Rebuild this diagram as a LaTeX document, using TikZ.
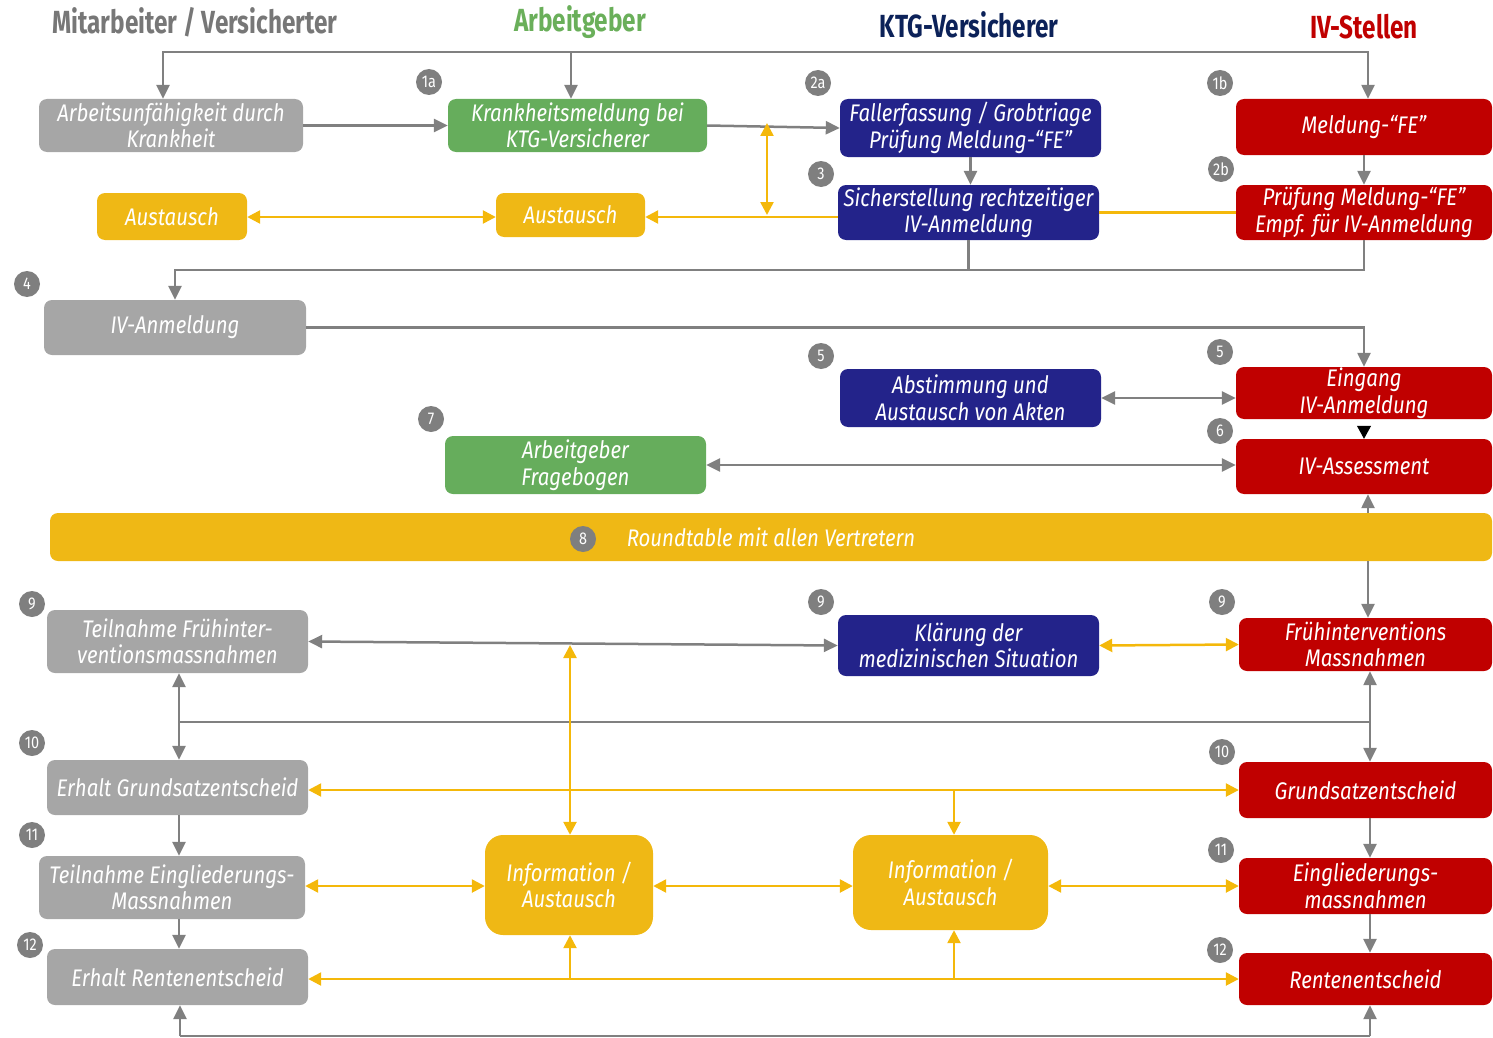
\documentclass[tikz,border=0pt]{standalone}
\usepackage{fontspec}
\setmainfont{Fira Sans}[FakeStretch=0.85]
\newfontfamily\headfont{Fira Sans}[FakeStretch=0.76]
\usetikzlibrary{arrows.meta}
\definecolor{boxgray}{HTML}{A6A6A6}
\definecolor{boxgreen}{HTML}{66AD5C}
\definecolor{boxnavy}{HTML}{23238A}
\definecolor{boxred}{HTML}{C00000}
\definecolor{boxyellow}{HTML}{EFB815}
\definecolor{lineyellow}{HTML}{F4B80A}
\definecolor{linegray}{HTML}{808080}
\definecolor{headgray}{HTML}{777777}
\definecolor{headgreen}{HTML}{6AAF5A}
\definecolor{headnavy}{HTML}{0C2259}
\definecolor{badgegray}{HTML}{7F7F7F}
\tikzset{
  bxbase/.style={rectangle, rounded corners=8pt, text=white, align=center, inner sep=0pt,
    font=\fontsize{24}{26.5}\selectfont\itshape},
  graybx/.style={bxbase, fill=boxgray},
  greenbx/.style={bxbase, fill=boxgreen},
  navybx/.style={bxbase, fill=boxnavy},
  redbx/.style={bxbase, fill=boxred},
  yelbx/.style={bxbase, fill=boxyellow},
  badge/.style={circle, fill=badgegray, text=white, minimum size=26pt, inner sep=0pt,
    font=\fontsize{17}{17}\selectfont},
  header/.style={font=\headfont\bfseries\fontsize{32}{34}\selectfont},
  gline/.style={draw=linegray, line width=2.5pt},
  garr/.style={gline, -{Triangle[length=14pt,width=13pt]}},
  garrb/.style={gline, {Triangle[length=14pt,width=13pt]}-{Triangle[length=14pt,width=13pt]}},
  yline/.style={draw=lineyellow, line width=2.5pt},
  yarr/.style={yline, -{Triangle[length=13pt,width=13pt]}},
  yarrb/.style={yline, {Triangle[length=13pt,width=13pt]}-{Triangle[length=13pt,width=13pt]}},
}
\begin{document}
\begin{tikzpicture}[x=1pt, y=-1pt]
\useasboundingbox (0,0) rectangle (1493,1038);
% headers
\node[header, text=headgray] (h1) at (195,22) {Mitarbeiter / Versicherter};
\node[header, text=headgreen] (h2) at (580,22) {Arbeitgeber};
\node[header, text=headnavy] (h3) at (969,25) {KTG-Versicherer};
\node[header, text=boxred] (h4) at (1364,27) {IV-Stellen};
% boxes
\node[graybx, minimum width=264, minimum height=53] (a1) at (171,125.5) {Arbeitsunfähigkeit durch\\Krankheit};
\node[greenbx, minimum width=259, minimum height=53] (km) at (577.5,125.5) {Krankheitsmeldung bei\\KTG-Versicherer};
\node[navybx, minimum width=261, minimum height=58] (fe) at (970.5,128) {Fallerfassung / Grobtriage\\Prüfung Meldung-“FE”};
\node[redbx, minimum width=256, minimum height=56] (mfe) at (1364,127) {Meldung-“FE”};
\node[yelbx, minimum width=150, minimum height=47] (aus1) at (172,216.5) {Austausch};
\node[yelbx, minimum width=149, minimum height=44] (aus2) at (570.5,215) {Austausch};
\node[navybx, minimum width=261, minimum height=55] (sich) at (968.5,212.5) {Sicherstellung rechtzeitiger\\IV-Anmeldung};
\node[redbx, minimum width=256, minimum height=55] (pru) at (1364,212.5) {Prüfung Meldung-“FE”\\Empf. für IV-Anmeldung};
\node[graybx, minimum width=262, minimum height=55] (iva) at (175,327.5) {IV-Anmeldung};
\node[navybx, minimum width=261, minimum height=58] (abst) at (970.5,398) {Abstimmung und\\Austausch von Akten};
\node[redbx, minimum width=256, minimum height=52] (eing) at (1364,393) {Eingang\\IV-Anmeldung};
\node[redbx, minimum width=256, minimum height=55] (ass) at (1364,466.5) {IV-Assessment};
\node[greenbx, minimum width=261, minimum height=58] (frag) at (575.5,465) {Arbeitgeber\\Fragebogen};
\node[yelbx, minimum width=1442, minimum height=48] (rt) at (771,537) {Roundtable mit allen Vertretern};
\node[graybx, minimum width=261, minimum height=63] (tfr) at (177.5,641.5) {Teilnahme Frühinter-\\ventionsmassnahmen};
\node[navybx, minimum width=261, minimum height=61] (kl) at (968.5,645.5) {Klärung der\\medizinischen Situation};
\node[redbx, minimum width=253, minimum height=53] (fri) at (1365.5,644.5) {Frühinterventions\\Massnahmen};
\node[graybx, minimum width=261, minimum height=55] (egs) at (177.5,787.5) {Erhalt Grundsatzentscheid};
\node[redbx, minimum width=253, minimum height=56] (gs) at (1365.5,790) {Grundsatzentscheid};
\node[graybx, minimum width=266, minimum height=63] (teg) at (172,887.5) {Teilnahme Eingliederungs-\\Massnahmen};
\node[yelbx, rounded corners=18pt, minimum width=168, minimum height=100] (inf1) at (569,885) {Information /\\Austausch};
\node[yelbx, rounded corners=18pt, minimum width=195, minimum height=95] (inf2) at (950.5,882.5) {Information /\\Austausch};
\node[redbx, minimum width=253, minimum height=56] (egm) at (1365.5,886) {Eingliederungs-\\massnahmen};
\node[graybx, minimum width=261, minimum height=56] (err) at (177.5,977) {Erhalt Rentenentscheid};
\node[redbx, minimum width=253, minimum height=52] (rent) at (1365.5,979) {Rentenentscheid};
% badges
\node[badge] (b1a) at (429,82) {1a};
\node[badge] (b2a) at (818,83) {2a};
\node[badge] (b1b) at (1220,83) {1b};
\node[badge] (b3) at (821,174) {3};
\node[badge] (b2b) at (1221,169) {2b};
\node[badge] (b4) at (27,284) {4};
\node[badge] (b5a) at (821,356) {5};
\node[badge] (b5b) at (1220,352) {5};
\node[badge] (b6) at (1220,431) {6};
\node[badge] (b7) at (431,419) {7};
\node[badge] (b8) at (583,539) {8};
\node[badge] (b9a) at (32,604) {9};
\node[badge] (b9b) at (821,602) {9};
\node[badge] (b9c) at (1222,602) {9};
\node[badge] (b10a) at (32,743) {10};
\node[badge] (b10b) at (1222,752) {10};
\node[badge] (b11a) at (32,835) {11};
\node[badge] (b11b) at (1221,850) {11};
\node[badge] (b12a) at (30,945) {12};
\node[badge] (b12b) at (1220,950) {12};
% gray connectors
\coordinate (t1) at (163,52); \coordinate (t2) at (571,52); \coordinate (t3) at (1368,52);
\draw[garr] (t2) -- (t1) -- (t1 |- a1.north);
\draw[garr] (t2) -- (t3) -- (t3 |- mfe.north);
\draw[garr] (t2) -- (t2 |- km.north);
\draw[garr] (a1.east) -- (km.west);
\draw[garr] (km.east) -- (fe.west);
\draw[garr] (fe.south) -- (fe.south |- sich.north);
\draw[garr] (mfe.south) -- (pru.north);
\coordinate (r4) at (1366,270);
\draw[gline] (pru.south) -- (pru.south |- r4) -- (sich.south |- r4);
\draw[garr] (sich.south) -- (sich.south |- r4) -- (iva.north |- r4) -- (iva.north);
\draw[garr] (iva.east) -- (iva.east -| eing.north) -- (eing.north);
\draw[garrb] (abst.east) -- (abst.east -| eing.west);
\draw[black, line width=1pt, -{Triangle[length=13pt,width=14pt]}, shorten <=7pt] (eing.south) -- (ass.north);
\draw[garrb] (frag.east) -- (frag.east -| ass.west);
\coordinate (cx) at (1368,0);
\draw[garr] (rt.north -| cx) -- (ass.south -| cx);
\draw[garr] (rt.south -| cx) -- (fri.north -| cx);
\draw[garrb] (tfr.east) -- (kl.west);
\coordinate (m1) at (179,722); \coordinate (m2) at (1370,722);
\draw[garr] (m1) -- (tfr.south -| m1);
\draw[garr] (m1) -- (egs.north -| m1);
\draw[gline] (m1) -- (m2);
\draw[garr] (m2) -- (fri.south -| m2);
\draw[garr] (m2) -- (gs.north -| m2);
\draw[garr] (egs.south -| m1) -- (teg.north -| m1);
\draw[garr] (teg.south -| m1) -- (err.north -| m1);
\draw[garr] (gs.south -| m2) -- (egm.north -| m2);
\draw[garr] (egm.south -| m2) -- (rent.north -| m2);
\coordinate (q1) at (180,1036); \coordinate (q2) at (1370,1036);
\draw[garr] (q1) -- (err.south -| q1);
\draw[gline] (q1) -- (q2);
\draw[garr] (q2) -- (rent.south -| q2);
% yellow connectors
\coordinate (ya) at (0,217);
\draw[yarrb] (aus1.east |- ya) -- (aus2.west |- ya);
\draw[yarr] (sich.west |- ya) -- (aus2.east |- ya);
\coordinate (v1) at (767,123); \coordinate (v2) at (767,215);
\draw[yarrb] (v1) -- (v2);
\draw[yline] (sich.east) -- (pru.west);
\draw[yarrb] (kl.east) -- (fri.west);
\coordinate (i1) at (570,645);
\draw[yarrb] (i1) -- (inf1.north -| i1);
\coordinate (yg) at (0,790);
\draw[yarrb] (egs.east |- yg) -- (gs.west |- yg);
\coordinate (j2) at (954,790);
\draw[yarr] (j2) -- (inf2.north -| j2);
\coordinate (yi) at (0,886);
\draw[yarrb] (teg.east |- yi) -- (inf1.west |- yi);
\draw[yarrb] (inf1.east |- yi) -- (inf2.west |- yi);
\draw[yarrb] (inf2.east |- yi) -- (egm.west |- yi);
\coordinate (yr) at (0,979);
\draw[yarrb] (err.east |- yr) -- (rent.west |- yr);
\coordinate (k1) at (570,979); \coordinate (k2) at (954,979);
\draw[yarr] (k1) -- (inf1.south -| k1);
\draw[yarr] (k2) -- (inf2.south -| k2);
\end{tikzpicture}
\end{document}
